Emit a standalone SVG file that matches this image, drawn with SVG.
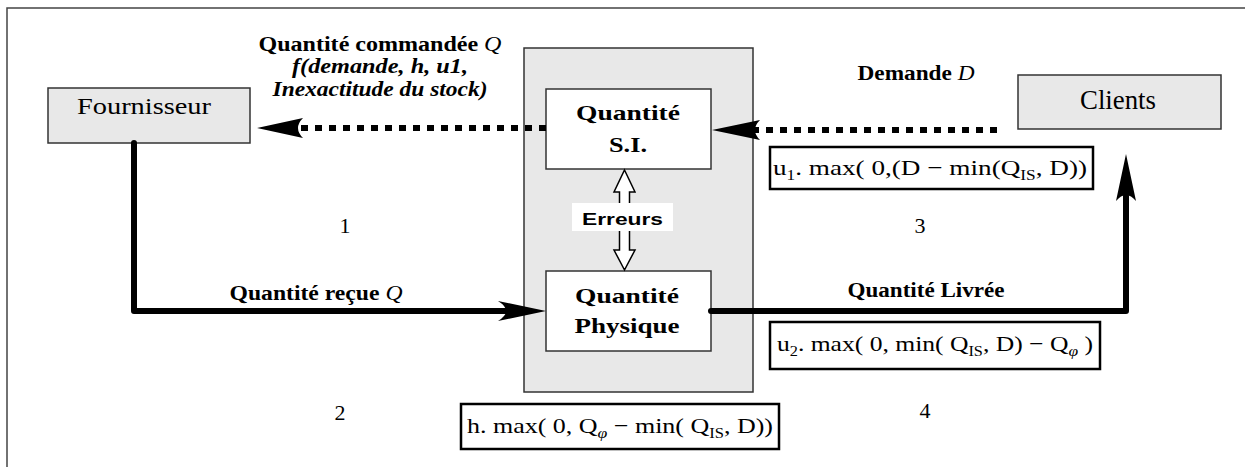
<svg xmlns="http://www.w3.org/2000/svg" width="1245" height="467" viewBox="0 0 1245 467">
<style>
.frame{fill:none;stroke:#444;stroke-width:1.5}
.gray{fill:#e8e8e8;stroke:#333;stroke-width:1.5}
.white{fill:#fff;stroke:#333;stroke-width:1.5}
.fbox{fill:#fff;stroke:#000;stroke-width:2.5}
.serif{font-family:"Liberation Serif","Times New Roman",serif;fill:#000}
.b{font-weight:bold}
.i{font-style:italic}
.dot{fill:none;stroke:#000;stroke-width:6;stroke-dasharray:7 7}
.thick{fill:none;stroke:#000;stroke-width:6;stroke-linejoin:round;stroke-linecap:round}
.head{fill:#000;stroke:none}
.dbl{fill:#fff;stroke:#000;stroke-width:1.5;stroke-linejoin:miter}
.sans{font-family:"Liberation Sans",Arial,sans-serif;font-weight:bold;fill:#000}
</style>
<g id="frame">
<path class="frame" d="M7,467 V8 H1245"/>
</g>
<g id="systeme">
<rect class="gray" x="524" y="48" width="229" height="344"/>
</g>
<g id="fournisseur">
<rect class="gray" x="48" y="88" width="202" height="55"/>
<text class="serif" x="144" y="114" font-size="24" text-anchor="middle" textLength="134" lengthAdjust="spacingAndGlyphs">Fournisseur</text>
</g>
<g id="clients">
<rect class="gray" x="1018" y="75" width="203" height="54"/>
<text class="serif" x="1118" y="109" font-size="27" text-anchor="middle" textLength="76" lengthAdjust="spacingAndGlyphs">Clients</text>
</g>
<g id="quantite-si">
<rect class="white" x="546" y="89" width="165" height="80"/>
<text class="serif b" x="628" y="120" font-size="22" text-anchor="middle" textLength="104" lengthAdjust="spacingAndGlyphs">Quantité</text>
<text class="serif b" x="628" y="152" font-size="22" text-anchor="middle" textLength="38" lengthAdjust="spacingAndGlyphs">S.I.</text>
</g>
<g id="quantite-physique">
<rect class="white" x="546" y="271" width="165" height="80"/>
<text class="serif b" x="627" y="303" font-size="22" text-anchor="middle" textLength="104" lengthAdjust="spacingAndGlyphs">Quantité</text>
<text class="serif b" x="627" y="333" font-size="22" text-anchor="middle" textLength="105" lengthAdjust="spacingAndGlyphs">Physique</text>
</g>
<g id="connectors">
<line class="dot" x1="546" y1="128" x2="298" y2="128"/>
<path class="head" d="M257,128 L303,118 Q293,128 303,138 Z"/>
<line class="dot" x1="997" y1="130" x2="755" y2="130"/>
<path class="head" d="M712,130 L760,120 Q750,130 760,140 Z"/>
<path class="thick" d="M134,143 V311 H508"/>
<path class="head" d="M546,311 L498,301 Q514,311 498,321 Z"/>
<path class="thick" d="M711,311 H1126 V196"/>
<path class="head" d="M1126,154 L1116,201 Q1126,189 1136,201 Z"/>
<path class="dbl" d="M624.5,170 L635,192 L629.5,192 L629.5,250 L635,250 L624.5,270 L614,250 L619.5,250 L619.5,192 L614,192 Z"/>
</g>
<g id="erreurs">
<rect x="572" y="203" width="101" height="28" fill="#fff"/>
<text class="sans" x="622.5" y="225" font-size="17" text-anchor="middle" textLength="81" lengthAdjust="spacingAndGlyphs">Erreurs</text>
</g>
<g id="label-commandee">
<text class="serif b" x="380" y="51" font-size="20" text-anchor="middle" textLength="243" lengthAdjust="spacingAndGlyphs">Quantité commandée <tspan class="i" font-weight="normal">Q</tspan></text>
<text class="serif b i" x="380" y="73" font-size="20" text-anchor="middle" textLength="176" lengthAdjust="spacingAndGlyphs">f(demande, h, u1,</text>
<text class="serif b i" x="380" y="96" font-size="20" text-anchor="middle" textLength="215" lengthAdjust="spacingAndGlyphs">Inexactitude du stock)</text>
</g>
<g id="label-demande">
<text class="serif b" x="916" y="80" font-size="20" text-anchor="middle" textLength="117" lengthAdjust="spacingAndGlyphs">Demande <tspan class="i" font-weight="normal">D</tspan></text>
</g>
<g id="label-recue">
<text class="serif b" x="316" y="300" font-size="20" text-anchor="middle" textLength="173" lengthAdjust="spacingAndGlyphs">Quantité reçue <tspan class="i" font-weight="normal">Q</tspan></text>
</g>
<g id="label-livree">
<text class="serif b" x="926" y="297" font-size="20" text-anchor="middle" textLength="157" lengthAdjust="spacingAndGlyphs">Quantité Livrée</text>
</g>
<g id="zones">
<text class="serif" x="345" y="233" font-size="22" text-anchor="middle">1</text>
<text class="serif" x="340" y="420" font-size="22" text-anchor="middle">2</text>
<text class="serif" x="920" y="233" font-size="22" text-anchor="middle">3</text>
<text class="serif" x="925" y="418" font-size="22" text-anchor="middle">4</text>
</g>
<g id="cout-u1">
<rect class="fbox" x="770" y="147" width="323" height="42"/>
<text class="serif" x="773" y="175" font-size="22" textLength="314" lengthAdjust="spacingAndGlyphs">u<tspan font-size="14" dy="5">1</tspan><tspan dy="-5">. max( 0,(D − min(Q</tspan><tspan font-size="14" dy="5">IS</tspan><tspan dy="-5">, D))</tspan></text>
</g>
<g id="cout-u2">
<rect class="fbox" x="770" y="322" width="330" height="47"/>
<text class="serif" x="777" y="351" font-size="22" textLength="316" lengthAdjust="spacingAndGlyphs">u<tspan font-size="14" dy="5">2</tspan><tspan dy="-5">. max( 0, min( Q</tspan><tspan font-size="14" dy="5">IS</tspan><tspan dy="-5">, D) − Q</tspan><tspan font-size="15" font-style="italic" dy="5">φ</tspan><tspan dy="-5"> )</tspan></text>
</g>
<g id="cout-h">
<rect class="fbox" x="461" y="404" width="318" height="45"/>
<text class="serif" x="467" y="433" font-size="22" textLength="306" lengthAdjust="spacingAndGlyphs">h. max( 0, Q<tspan font-size="15" font-style="italic" dy="5">φ</tspan><tspan dy="-5"> − min( Q</tspan><tspan font-size="14" dy="5">IS</tspan><tspan dy="-5">, D))</tspan></text>
</g>
</svg>
